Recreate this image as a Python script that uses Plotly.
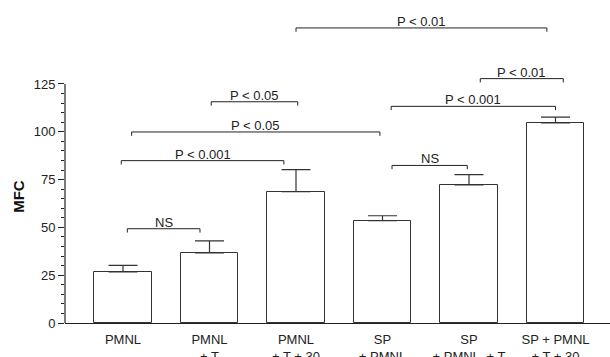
import plotly.graph_objects as go

# ---- data ----
categories = ["PMNL", "PMNL<br>+ T", "PMNL<br>+ T + 30", "SP<br>+ PMNL",
              "SP<br>+ PMNL  + T", "SP + PMNL<br>+ T + 30"]
mfc_mean = [26.7, 36.6, 68.7, 53.5, 72.2, 104.6]
mfc_err = [3.4, 6.3, 11.5, 2.6, 5.4, 3.1]

y_ticks = [0, 25, 50, 75, 100, 125]
y_minor = [v for v in range(0, 126, 5) if v % 25 != 0]

# significance brackets: start, end (category index units), level (MFC), label
br_start = [0.05, -0.02, 0.10, 1.02, 2.00, 4.13, 3.10, 3.11]
br_end = [0.89, 1.86, 2.97, 2.02, 4.90, 5.09, 5.00, 3.98]
br_level = [49.3, 84.9, 99.9, 115.7, 154.3, 127.8, 113.3, 82.4]
br_label = ["NS", "P < 0.001", "P < 0.05", "P < 0.05", "P < 0.01",
            "P < 0.01", "P < 0.001", "NS"]

xpos = list(range(len(categories)))
ink = "#222222"
font = "Liberation Sans, Arial, sans-serif"

fig = go.Figure()
fig.add_trace(go.Bar(
    x=xpos, y=mfc_mean, width=0.665,
    marker=dict(color="white", line=dict(color="#333333", width=1)),
    error_y=dict(type="data", symmetric=False, array=mfc_err,
                 arrayminus=[0] * len(mfc_err), color="#333333",
                 thickness=1.2, width=14.5),
    showlegend=False, hoverinfo="skip",
))

shapes = []
annotations = []
tick_drop = 2.0
for x0, x1, lv, lab in zip(br_start, br_end, br_level, br_label):
    shapes.append(dict(
        type="path", xref="x", yref="y",
        path=f"M {x0},{lv - tick_drop} L {x0},{lv} L {x1},{lv} L {x1},{lv - tick_drop}",
        line=dict(color=ink, width=1),
    ))
    annotations.append(dict(
        x=(x0 + x1) / 2, y=lv, xref="x", yref="y", text=lab,
        showarrow=False, yanchor="bottom", yshift=-3,
        font=dict(family=font, size=13, color=ink),
    ))

# y-axis title placed beside the 0..125 scale
annotations.append(dict(
    x=0, y=66, xref="paper", yref="y", text="<b>MFC</b>", textangle=-90,
    showarrow=False, xanchor="center", yanchor="middle", xshift=-46,
    font=dict(family=font, size=15, color="#111111"),
))

# y-axis line only over 0..125
shapes.append(dict(type="line", xref="paper", yref="y", x0=0, x1=0,
                   y0=0, y1=125, line=dict(color=ink, width=1.2)))

fig.update_layout(
    width=610, height=357,
    margin=dict(l=65, r=0, t=5, b=34, autoexpand=False),
    paper_bgcolor="white", plot_bgcolor="white",
    shapes=shapes, annotations=annotations,
    font=dict(family=font, size=13, color=ink),
    bargap=0,
)
fig.update_xaxes(
    range=[-0.6705, 5.63], tickvals=xpos, ticktext=categories,
    showline=True, linecolor=ink, linewidth=1.2, ticks="",
    showgrid=False, zeroline=False, tickfont=dict(size=13),
    ticklabelstandoff=4, automargin=False,
)
fig.update_yaxes(
    range=[0, 166.3], tickvals=y_ticks, ticks="outside", ticklen=6,
    tickcolor=ink, tickwidth=1.2,
    minor=dict(tickmode="array", tickvals=y_minor, ticks="outside",
               ticklen=3, tickcolor=ink, tickwidth=1, showgrid=False),
    showline=False, showgrid=False, zeroline=False,
    tickfont=dict(size=13), automargin=False,
)

fig.write_html(
    "out.html",
    config={"displayModeBar": False},
    post_script="document.body.style.margin='0';document.body.style.overflow='hidden';",
)
